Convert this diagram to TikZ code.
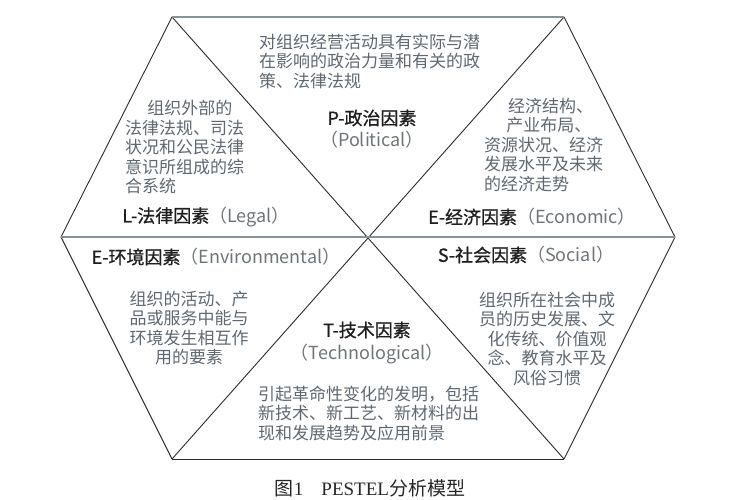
\documentclass[tikz,border=0pt]{standalone}
\usepackage{fontspec}
\setmainfont{Noto Sans CJK SC}
\newfontfamily\titlefont[FakeBold=0.9]{Noto Sans CJK SC}
\newfontfamily\capfont{Liberation Serif}
\usetikzlibrary{positioning}
\definecolor{descgray}{HTML}{5F6870}
\definecolor{subgray}{HTML}{6E7478}
\definecolor{linegray}{HTML}{8A9298}
\definecolor{edgeblack}{HTML}{2B2B2B}
\newcommand{\fac}[1]{{\titlefont #1}}

\begin{document}
\begin{tikzpicture}[x=1pt,y=-1pt,node distance=4pt,
  factor/.style={inner sep=0pt,font=\fontsize{18}{22}\selectfont,text=black!88},
  sub/.style={inner sep=0pt,font=\fontsize{18}{22}\selectfont,text=subgray},
  desc/.style={inner sep=0pt,font=\fontsize{17}{19.5}\selectfont,text=descgray},
  edgeline/.style={color=edgeblack,line width=0.9pt},
  midline/.style={color=linegray,line width=1.6pt}]
  \useasboundingbox (0,0) rectangle (733,500);

  % hexagon corners
  \coordinate (tl) at (172,17);
  \coordinate (tr) at (564,17);
  \coordinate (r)  at (675,237);
  \coordinate (br) at (564,459);
  \coordinate (bl) at (172,459);
  \coordinate (l)  at (61,237);

  \path[edgeline]
  (tl) edge (l)
  (l)  edge (bl)
  (bl) edge (br)
  (br) edge (r)
  (r)  edge (tr)
  (tl) edge (br)
  (tr) edge (bl);
  \path[midline]
  (tl) edge (tr)
  (l)  edge (r);

  % P
  \node[desc,anchor=west,align=left] (pdesc) at (259,61)
    {对组织经营活动具有实际与潜\\在影响的政治力量和有关的政\\策、法律法规};
  \node[factor] (ptitle) at (372,118) {\fac{P-政治因素}};
  \node[sub] (pen) [below=of ptitle] {（Political）};

  % L
  \node[desc,anchor=west,align=left] (ldesc) at (125,147)
    {\hspace*{1.3em}组织外部的\\法律法规、司法\\状况和公民法律\\意识所组成的综\\合系统};
  \node[factor] (ltitle) at (206,217) {\fac{L-法律因素}\textcolor{subgray}{（Legal）}};

  % E economic
  \node[desc,anchor=west,align=left] (edesc) at (484,145)
    {\hspace*{1.4em}经济结构、\\\hspace*{1.3em}产业布局、\\资源状况、经济\\发展水平及未来\\的经济走势};
  \node[factor] (etitle) at (532,217) {\fac{E-经济因素}\textcolor{subgray}{（Economic）}};

  % E environmental
  \node[factor] (vtitle) at (216,257) {\fac{E-环境因素}\textcolor{subgray}{（Environmental）}};
  \node[desc,align=center] (vdesc) at (189,328)
    {组织的活动、产\\品或服务中能与\\环境发生相互作\\用的要素};

  % S
  \node[factor] (stitle) at (526,255) {\fac{S-社会因素}\textcolor{subgray}{（Social）}};
  \node[desc,align=center] (sdesc) at (547,339)
    {组织所在社会中成\\员的历史发展、文\\化传统、价值观\\念、教育水平及\\风俗习惯};

  % T
  \node[factor] (ttitle) at (367,330) {\fac{T-技术因素}};
  \node[sub] (ten) [below=5pt of ttitle] {（Technological）};
  \node[desc,anchor=west,align=left] (tdesc) at (258,413)
    {引起革命性变化的发明，包括\\新技术、新工艺、新材料的出\\现和发展趋势及应用前景};

  \node[inner sep=0pt,font=\fontsize{19}{22}\selectfont,text=black!85] (cap) at (370,488)
    {图{\capfont 1}\hspace{18pt}{\capfont PESTEL}分析模型};
\end{tikzpicture}
\end{document}
